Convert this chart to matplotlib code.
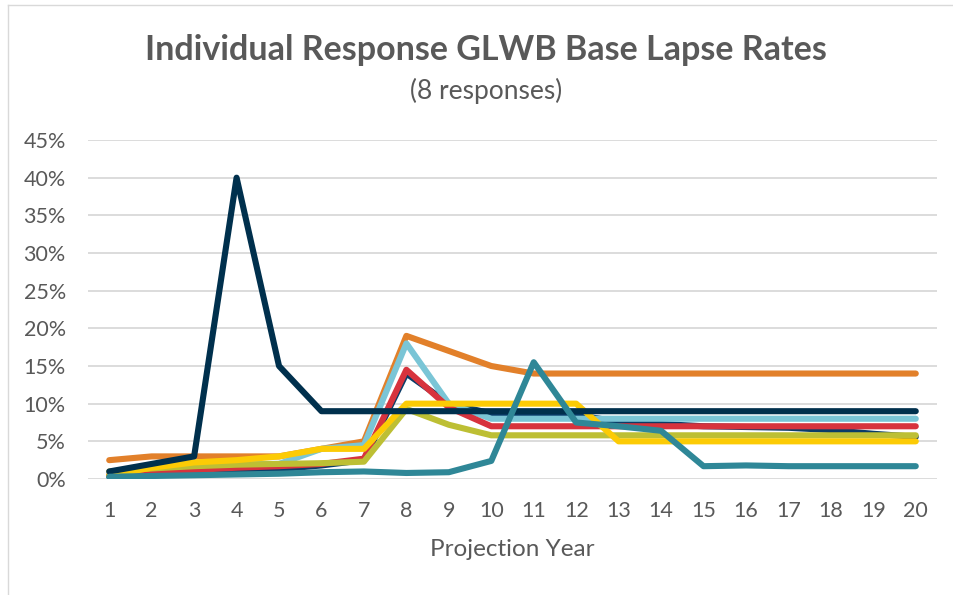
import matplotlib
matplotlib.use("Agg")
import matplotlib.pyplot as plt
from matplotlib.lines import Line2D
from matplotlib.ticker import FuncFormatter

plt.rcParams['font.family'] = ['Lato', 'DejaVu Sans']

years = list(range(1, 21))

resp_navy2 = [0.3, 0.5, 0.7, 1.0, 1.3, 1.8, 2.5, 14.0, 10.0, 8.7, 8.6, 8.5, 7.6, 7.3, 7.0, 6.9, 6.8, 6.5, 6.0, 5.6]
resp_orange = [2.5, 3, 3, 3, 3, 4, 5, 19, 17, 15, 14, 14, 14, 14, 14, 14, 14, 14, 14, 14]
resp_lightblue = [0.5, 1.0, 1.5, 2.0, 2.0, 4.0, 4.5, 18, 10, 8, 8, 8, 8, 8, 8, 8, 8, 8, 8, 8]
resp_red = [0.5, 0.9, 1.2, 1.5, 1.7, 2.0, 2.7, 14.5, 9.5, 7, 7, 7, 7, 7, 7, 7, 7, 7, 7, 7]
resp_olive = [1.0, 1.4, 1.7, 1.9, 2.0, 2.1, 2.3, 9.3, 7.2, 5.8, 5.8, 5.8, 5.8, 5.8, 5.8, 5.8, 5.8, 5.8, 5.8, 5.8]
resp_yellow = [0.5, 1.5, 2.2, 2.5, 3.0, 4.0, 4.0, 10, 10, 10, 10, 10, 5, 5, 5, 5, 5, 5, 5, 5]
resp_navy = [1, 2, 3, 40, 15, 9, 9, 9, 9, 9, 9, 9, 9, 9, 9, 9, 9, 9, 9, 9]
resp_teal = [0.3, 0.4, 0.5, 0.6, 0.7, 0.9, 1.0, 0.8, 0.9, 2.4, 15.5, 7.5, 7.0, 6.4, 1.7, 1.8, 1.7, 1.7, 1.7, 1.7]

series = [
    (resp_navy2, "#0A3C68"),
    (resp_orange, "#E2802A"),
    (resp_lightblue, "#7AC5D6"),
    (resp_red, "#D7333D"),
    (resp_olive, "#BDBF34"),
    (resp_yellow, "#FCCB05"),
    (resp_navy, "#00304D"),
    (resp_teal, "#2F8797"),
]

W, H = 954, 595
fig = plt.figure(figsize=(W / 100, H / 100), dpi=100)
ax = fig.add_axes([88 / W, 1 - 479 / H, (937 - 88) / W, (479 - 140) / H])

for vals, col in series:
    ax.plot(years, [v / 100 for v in vals], color=col, lw=4.4,
            solid_capstyle='round', solid_joinstyle='round')

ax.set_xlim(0.5, 20.5)
ax.set_ylim(0, 0.45)
ax.set_yticks([i * 0.05 for i in range(10)])
ax.yaxis.set_major_formatter(FuncFormatter(lambda v, p: f"{round(v * 100)}%"))
ax.set_xticks(years)
ax.grid(axis='y', color='#D9D9D9', lw=1.3)
ax.set_axisbelow(True)
for s in ax.spines.values():
    s.set_visible(False)
ax.tick_params(axis='both', length=0, colors='#595959', labelsize=15.5)
ax.tick_params(axis='x', pad=16)
ax.tick_params(axis='y', pad=16)

ax.set_xlabel("Projection Year", fontsize=17.5, color='#595959', labelpad=13)

fig.text(486 / W, 1 - 50 / H, "Individual Response GLWB Base Lapse Rates",
         ha='center', va='center', fontsize=24.5, fontweight='bold', color='#595959')
fig.text(486 / W, 1 - 91 / H, "(8 responses)",
         ha='center', va='center', fontsize=19, color='#595959')

fig.add_artist(Line2D([8 / W, 1], [1 - 5 / H, 1 - 5 / H], transform=fig.transFigure,
                      color='#D9D9D9', lw=1))
fig.add_artist(Line2D([8 / W, 8 / W], [0, 1 - 5 / H], transform=fig.transFigure,
                      color='#D9D9D9', lw=1))

fig.savefig("out.png", dpi=100, facecolor='white')
